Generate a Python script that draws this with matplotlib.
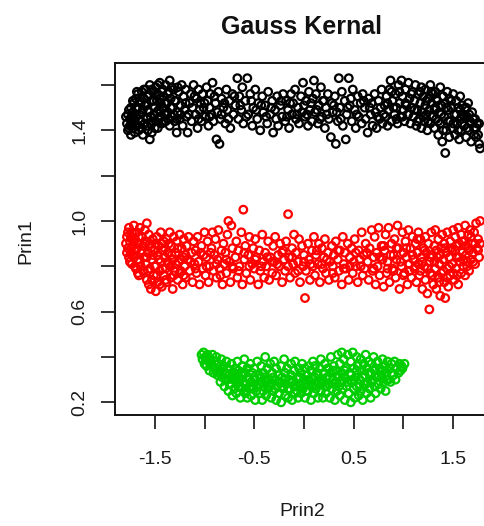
import numpy as np
import matplotlib
matplotlib.use("Agg")
import matplotlib.pyplot as plt

# Kernel PCA scores: (Prin2, Prin1) for each of the three groups
black_pts = [
    (-1.78,1.43),(-1.77,1.47),(-1.76,1.41),(-1.75,1.45),(-1.74,1.50),(-1.74,1.38),(-1.73,1.43),(-1.72,1.48),(-1.72,1.41),(-1.71,1.52),(-1.71,1.45),(-1.70,1.39),
    (-1.69,1.54),(-1.69,1.46),(-1.68,1.42),(-1.67,1.50),(-1.67,1.56),(-1.66,1.40),(-1.65,1.47),(-1.64,1.52),(-1.64,1.44),(-1.63,1.57),(-1.62,1.38),(-1.62,1.49),(-1.61,1.54),(-1.60,1.43),
    (-1.59,1.51),(-1.59,1.58),(-1.58,1.45),(-1.57,1.40),(-1.57,1.55),(-1.56,1.48),(-1.55,1.36),(-1.55,1.60),(-1.54,1.43),(-1.53,1.53),(-1.53,1.39),(-1.52,1.57),(-1.51,1.47),(-1.50,1.50),
    (-1.49,1.59),(-1.49,1.44),(-1.48,1.53),(-1.47,1.41),(-1.47,1.56),(-1.46,1.49),(-1.45,1.61),(-1.45,1.46),(-1.44,1.52),(-1.43,1.43),(-1.42,1.58),(-1.42,1.50),(-1.41,1.55),(-1.40,1.47),
    (-1.39,1.60),(-1.39,1.44),(-1.38,1.52),(-1.37,1.48),(-1.36,1.57),(-1.35,1.42),(-1.35,1.62),(-1.34,1.54),(-1.33,1.46),(-1.32,1.50),(-1.31,1.58),(-1.30,1.44),
    (-1.29,1.53),(-1.28,1.39),(-1.27,1.48),(-1.26,1.57),(-1.25,1.45),(-1.24,1.51),(-1.23,1.60),(-1.22,1.42),(-1.21,1.55),(-1.20,1.49),
    (-1.19,1.58),(-1.18,1.46),(-1.17,1.39),(-1.15,1.52),(-1.14,1.56),(-1.13,1.44),(-1.12,1.50),(-1.11,1.60),
    (-1.09,1.47),(-1.08,1.54),(-1.07,1.41),(-1.06,1.58),(-1.05,1.49),(-1.04,1.52),(-1.03,1.44),(-1.02,1.56),(-1.01,1.50),
    (-0.99,1.46),(-0.98,1.59),(-0.97,1.53),(-0.96,1.42),(-0.95,1.50),(-0.94,1.56),(-0.93,1.47),(-0.92,1.61),(-0.91,1.44),
    (-0.89,1.52),(-0.88,1.36),(-0.87,1.48),(-0.86,1.57),(-0.85,1.34),(-0.84,1.45),(-0.83,1.54),(-0.81,1.50),
    (-0.79,1.43),(-0.78,1.58),(-0.77,1.49),(-0.75,1.53),(-0.74,1.41),(-0.72,1.56),(-0.71,1.47),
    (-0.69,1.51),(-0.67,1.63),(-0.66,1.45),(-0.65,1.55),(-0.63,1.49),(-0.62,1.59),(-0.61,1.43),
    (-0.59,1.53),(-0.57,1.63),(-0.56,1.47),(-0.54,1.56),(-0.52,1.42),(-0.51,1.50),
    (-0.49,1.58),(-0.47,1.45),(-0.46,1.52),(-0.44,1.40),(-0.42,1.55),(-0.41,1.48),
    (-0.39,1.51),(-0.37,1.43),(-0.36,1.57),(-0.34,1.47),(-0.32,1.53),(-0.31,1.39),
    (-0.29,1.49),(-0.27,1.55),(-0.26,1.42),(-0.24,1.51),(-0.22,1.46),(-0.21,1.56),
    (-0.19,1.44),(-0.18,1.53),(-0.16,1.49),(-0.15,1.41),(-0.13,1.56),(-0.12,1.47),(-0.11,1.52),
    (-0.09,1.58),(-0.08,1.45),(-0.06,1.50),(-0.05,1.43),(-0.03,1.55),(-0.02,1.48),(-0.01,1.61),
    (0.01,1.46),(0.02,1.53),(0.04,1.42),(0.05,1.57),(0.06,1.49),(0.08,1.44),(0.09,1.54),(0.10,1.62),
    (0.11,1.48),(0.12,1.56),(0.14,1.43),(0.15,1.51),(0.17,1.59),(0.18,1.46),(0.19,1.53),
    (0.21,1.41),(0.22,1.50),(0.24,1.56),(0.25,1.45),(0.27,1.37),(0.28,1.52),(0.29,1.48),
    (0.31,1.55),(0.32,1.34),(0.34,1.44),(0.35,1.63),(0.36,1.50),(0.38,1.57),(0.39,1.42),
    (0.41,1.53),(0.42,1.36),(0.43,1.47),(0.45,1.63),(0.46,1.51),(0.48,1.44),(0.49,1.58),
    (0.51,1.49),(0.52,1.41),(0.54,1.55),(0.55,1.46),(0.57,1.52),(0.58,1.43),(0.59,1.56),
    (0.61,1.50),(0.62,1.45),(0.64,1.39),(0.65,1.54),(0.67,1.47),(0.68,1.52),(0.69,1.42),
    (0.71,1.56),(0.72,1.48),(0.73,1.41),(0.75,1.53),(0.76,1.45),(0.77,1.50),(0.78,1.58),(0.79,1.43),
    (0.81,1.51),(0.82,1.46),(0.83,1.55),(0.84,1.42),(0.85,1.49),(0.86,1.58),(0.87,1.62),(0.88,1.44),(0.89,1.53),
    (0.91,1.47),(0.92,1.56),(0.93,1.50),(0.94,1.43),(0.95,1.60),(0.96,1.52),(0.97,1.46),(0.98,1.62),(0.99,1.55),(1.00,1.49),
    (1.01,1.44),(1.02,1.58),(1.03,1.51),(1.04,1.47),(1.05,1.61),(1.06,1.54),(1.07,1.43),(1.08,1.50),(1.09,1.57),(1.10,1.46),
    (1.11,1.53),(1.12,1.60),(1.13,1.42),(1.14,1.49),(1.15,1.56),(1.16,1.45),(1.17,1.52),(1.18,1.59),(1.18,1.41),(1.19,1.48),(1.20,1.55),
    (1.21,1.44),(1.22,1.51),(1.22,1.58),(1.23,1.47),(1.24,1.40),(1.25,1.54),(1.26,1.49),(1.27,1.60),(1.27,1.43),(1.28,1.52),(1.29,1.46),(1.30,1.56),
    (1.31,1.41),(1.32,1.50),(1.32,1.57),(1.33,1.45),(1.34,1.53),(1.35,1.38),(1.36,1.48),(1.37,1.59),(1.37,1.43),(1.38,1.51),(1.39,1.35),(1.40,1.55),
    (1.41,1.46),(1.42,1.30),(1.42,1.52),(1.43,1.40),(1.44,1.57),(1.45,1.49),(1.46,1.37),(1.46,1.54),(1.47,1.44),(1.48,1.50),(1.49,1.41),(1.50,1.56),
    (1.51,1.47),(1.52,1.38),(1.53,1.53),(1.54,1.43),(1.55,1.50),(1.56,1.36),(1.57,1.55),(1.58,1.45),(1.58,1.40),(1.59,1.51),(1.60,1.47),
    (1.61,1.42),(1.62,1.50),(1.63,1.37),(1.64,1.46),(1.65,1.52),(1.66,1.40),(1.67,1.44),(1.68,1.35),(1.69,1.48),
    (1.71,1.41),(1.72,1.45),(1.73,1.37),(1.74,1.43),(1.76,1.34),(1.77,1.32),
    # core of the band
    (-1.79,1.46),(-1.77,1.40),(-1.76,1.49),(-1.75,1.42),(-1.73,1.46),(-1.72,1.53),(-1.70,1.44),(-1.69,1.50),(-1.68,1.57),(-1.66,1.45),
    (-1.65,1.53),(-1.63,1.41),(-1.63,1.48),(-1.61,1.58),(-1.60,1.51),(-1.58,1.42),(-1.57,1.49),(-1.56,1.56),(-1.54,1.46),(-1.53,1.58),
    (-1.52,1.44),(-1.51,1.53),(-1.50,1.41),(-1.48,1.48),(-1.47,1.60),(-1.46,1.45),(-1.45,1.54),(-1.44,1.48),(-1.43,1.57),(-1.41,1.44),
    (-1.40,1.52),(-1.38,1.47),(-1.37,1.56),(-1.36,1.45),(-1.34,1.50),(-1.33,1.59),(-1.31,1.47),(-1.30,1.53),(-1.28,1.45),(-1.27,1.59),
    (-1.24,1.47),(-1.19,1.52),(-1.16,1.47),(-1.10,1.55),(-1.06,1.45),(-1.00,1.52),(-0.95,1.46),(-0.90,1.55),(-0.83,1.47),(-0.80,1.52),
    (-0.76,1.45),(-0.70,1.55),(-0.64,1.51),(-0.58,1.46),(-0.53,1.53),(-0.48,1.49),(-0.43,1.51),(-0.38,1.46),(-0.33,1.50),(-0.28,1.45),
    (-0.23,1.53),(-0.17,1.46),(-0.14,1.52),(-0.07,1.47),(0.00,1.51),(0.03,1.47),(0.07,1.52),(0.13,1.49),(0.16,1.45),(0.20,1.53),
    (0.23,1.47),(0.30,1.51),(0.33,1.48),(0.37,1.45),(0.44,1.50),(0.47,1.54),(0.53,1.47),(0.60,1.53),(0.66,1.50),(0.74,1.46),
    (0.80,1.47),(0.84,1.52),(0.88,1.57),(0.90,1.50),(0.93,1.45),(0.96,1.57),(0.99,1.46),(1.02,1.52),(1.05,1.47),(1.08,1.56),
    (1.11,1.49),(1.14,1.44),(1.17,1.57),(1.20,1.46),(1.23,1.53),(1.25,1.44),(1.28,1.57),(1.31,1.49),(1.33,1.54),(1.35,1.44),
    (1.38,1.47),(1.40,1.40),(1.43,1.50),(1.45,1.44),(1.48,1.53),(1.50,1.43),(1.53,1.47),(1.55,1.40),(1.57,1.49),(1.59,1.43),
    (1.61,1.46),(1.63,1.50),(1.64,1.41),(1.66,1.47),(1.68,1.43),(1.70,1.45),(1.71,1.38),(1.73,1.41),(1.75,1.38),(1.76,1.43),
]

red_pts = [
    (-1.78,0.93),(-1.77,0.88),(-1.76,0.97),(-1.76,0.84),(-1.75,0.91),(-1.74,0.86),(-1.73,0.95),(-1.73,0.81),(-1.72,0.89),(-1.71,0.98),(-1.71,0.84),(-1.70,0.92),
    (-1.69,0.87),(-1.69,0.79),(-1.68,0.95),(-1.67,0.83),(-1.67,0.90),(-1.66,0.76),(-1.65,0.97),(-1.64,0.86),(-1.64,0.80),(-1.63,0.93),(-1.62,0.78),(-1.62,0.89),(-1.61,0.84),(-1.60,0.96),
    (-1.59,0.81),(-1.59,0.91),(-1.58,0.74),(-1.58,0.99),(-1.57,0.86),(-1.56,0.72),(-1.56,0.94),(-1.55,0.79),(-1.54,0.88),(-1.54,0.70),(-1.53,0.83),(-1.52,0.92),(-1.51,0.76),(-1.50,0.87),
    (-1.49,0.80),(-1.49,0.69),(-1.48,0.93),(-1.47,0.85),(-1.47,0.73),(-1.46,0.89),(-1.45,0.78),(-1.44,0.95),(-1.44,0.82),(-1.43,0.71),(-1.42,0.87),(-1.41,0.91),(-1.41,0.76),(-1.40,0.84),
    (-1.39,0.79),(-1.38,0.92),(-1.38,0.73),(-1.37,0.86),(-1.36,0.81),(-1.35,0.95),(-1.34,0.75),(-1.33,0.89),(-1.32,0.83),(-1.32,0.70),(-1.31,0.93),(-1.30,0.78),
    (-1.29,0.86),(-1.28,0.91),(-1.27,0.74),(-1.26,0.82),(-1.25,0.94),(-1.24,0.78),(-1.23,0.88),(-1.22,0.72),(-1.21,0.84),(-1.21,0.92),(-1.20,0.80),
    (-1.19,0.75),(-1.18,0.89),(-1.17,0.83),(-1.16,0.93),(-1.15,0.78),(-1.13,0.86),(-1.12,0.73),(-1.11,0.91),(-1.10,0.81),
    (-1.09,0.87),(-1.08,0.77),(-1.07,0.93),(-1.06,0.82),(-1.05,0.72),(-1.03,0.89),(-1.02,0.79),(-1.01,0.85),(-1.00,0.95),
    (-0.99,0.76),(-0.98,0.84),(-0.97,0.91),(-0.96,0.73),(-0.95,0.80),(-0.93,0.88),(-0.92,0.95),(-0.91,0.78),(-0.90,0.85),
    (-0.89,0.92),(-0.88,0.75),(-0.87,0.83),(-0.86,0.96),(-0.85,0.79),(-0.83,0.87),(-0.82,0.72),(-0.81,0.90),(-0.80,0.81),
    (-0.79,0.86),(-0.78,0.77),(-0.77,0.94),(-0.76,1.00),(-0.75,0.82),(-0.74,0.73),(-0.73,0.98),(-0.72,0.88),(-0.71,0.79),
    (-0.69,0.84),(-0.68,0.91),(-0.67,0.75),(-0.66,0.87),(-0.65,0.80),(-0.63,0.95),(-0.62,0.72),(-0.61,1.05),(-0.60,0.83),
    (-0.59,0.89),(-0.58,0.77),(-0.56,0.85),(-0.55,0.93),(-0.54,0.74),(-0.52,0.81),(-0.51,0.88),(-0.50,0.79),
    (-0.49,0.92),(-0.48,0.84),(-0.46,0.72),(-0.45,0.87),(-0.44,0.78),(-0.42,0.94),(-0.41,0.82),(-0.40,0.75),
    (-0.39,0.86),(-0.38,0.80),(-0.36,0.91),(-0.35,0.74),(-0.34,0.84),(-0.32,0.77),(-0.31,0.89),(-0.30,0.82),
    (-0.29,0.93),(-0.28,0.76),(-0.26,0.85),(-0.25,0.80),(-0.24,0.90),(-0.22,0.73),(-0.21,0.87),(-0.20,0.83),
    (-0.19,0.78),(-0.18,0.91),(-0.16,1.03),(-0.15,0.84),(-0.14,0.75),(-0.12,0.88),(-0.11,0.81),(-0.10,0.94),
    (-0.09,0.77),(-0.08,0.86),(-0.06,0.82),(-0.05,0.92),(-0.04,0.73),(-0.02,0.89),(-0.01,0.80),(0.00,0.85),
    (0.01,0.66),(0.02,0.78),(0.04,0.90),(0.05,0.83),(0.06,0.74),(0.08,0.87),(0.09,0.80),(0.10,0.93),
    (0.11,0.76),(0.12,0.85),(0.14,0.81),(0.15,0.90),(0.16,0.73),(0.18,0.88),(0.19,0.79),(0.20,0.84),
    (0.21,0.92),(0.22,0.77),(0.24,0.86),(0.25,0.74),(0.26,0.82),(0.28,0.89),(0.29,0.80),(0.30,0.85),
    (0.31,0.75),(0.32,0.91),(0.34,0.83),(0.35,0.78),(0.36,0.87),(0.38,0.72),(0.39,0.93),(0.40,0.81),
    (0.41,0.86),(0.42,0.79),(0.44,0.90),(0.45,0.74),(0.46,0.84),(0.48,0.88),(0.49,0.77),(0.50,0.82),
    (0.51,0.92),(0.52,0.80),(0.54,0.73),(0.55,0.87),(0.56,0.83),(0.58,0.95),(0.59,0.76),(0.60,0.85),
    (0.61,0.79),(0.62,0.90),(0.64,0.82),(0.65,0.74),(0.66,0.88),(0.68,0.96),(0.69,0.78),(0.70,0.84),
    (0.71,0.93),(0.72,0.72),(0.73,0.86),(0.74,0.80),(0.75,0.97),(0.76,0.76),(0.78,0.89),(0.79,0.83),(0.80,0.71),
    (0.81,0.87),(0.82,0.94),(0.83,0.77),(0.84,0.82),(0.85,0.97),(0.86,0.73),(0.88,0.90),(0.89,0.79),(0.90,0.85),
    (0.91,0.92),(0.92,0.75),(0.93,0.83),(0.94,0.98),(0.95,0.88),(0.96,0.70),(0.98,0.80),(0.99,0.95),(1.00,0.86),
    (1.01,0.77),(1.02,0.91),(1.03,0.84),(1.04,0.72),(1.05,0.96),(1.06,0.81),(1.07,0.88),(1.08,0.75),(1.09,0.93),(1.10,0.83),
    (1.11,0.79),(1.12,0.90),(1.13,0.73),(1.14,0.86),(1.15,0.95),(1.15,0.81),(1.16,0.76),(1.17,0.92),(1.18,0.84),(1.19,0.70),(1.20,0.88),
    (1.21,0.80),(1.22,0.93),(1.22,0.74),(1.23,0.86),(1.24,0.68),(1.25,0.90),(1.26,0.61),(1.26,0.82),(1.27,0.77),(1.28,0.95),(1.29,0.85),(1.30,0.72),
    (1.31,0.89),(1.32,0.79),(1.32,0.96),(1.33,0.70),(1.34,0.84),(1.35,0.75),(1.35,0.92),(1.36,0.81),(1.37,0.67),(1.38,0.88),(1.38,0.77),(1.39,0.94),(1.40,0.83),
    (1.41,0.73),(1.41,0.90),(1.42,0.66),(1.43,0.86),(1.44,0.79),(1.44,0.95),(1.45,0.71),(1.46,0.84),(1.47,0.91),(1.47,0.76),(1.48,0.88),(1.49,0.81),(1.50,0.96),
    (1.51,0.74),(1.52,0.87),(1.52,0.93),(1.53,0.79),(1.54,0.84),(1.55,0.97),(1.55,0.72),(1.56,0.90),(1.57,0.82),(1.58,0.77),(1.58,0.94),(1.59,0.86),(1.60,0.80),
    (1.61,0.91),(1.62,0.76),(1.62,0.98),(1.63,0.85),(1.64,0.80),(1.65,0.94),(1.65,0.88),(1.66,0.78),(1.67,0.96),(1.68,0.83),(1.69,0.90),(1.70,0.86),
    (1.71,0.95),(1.72,0.81),(1.73,0.99),(1.74,0.88),(1.75,0.92),(1.76,0.84),(1.77,1.00),(1.77,0.90),
    # core of the band
    (-1.79,0.90),(-1.78,0.86),(-1.77,0.95),(-1.75,0.82),(-1.74,0.93),(-1.72,0.85),(-1.71,0.91),(-1.70,0.80),(-1.68,0.88),(-1.67,0.77),
    (-1.66,0.93),(-1.65,0.82),(-1.63,0.87),(-1.61,0.78),(-1.60,0.90),(-1.58,0.84),(-1.57,0.78),(-1.55,0.90),(-1.53,0.74),(-1.52,0.85),
    (-1.50,0.80),(-1.49,0.90),(-1.48,0.76),(-1.46,0.83),(-1.45,0.72),(-1.43,0.90),(-1.42,0.79),(-1.40,0.88),(-1.39,0.74),(-1.37,0.82),
    (-1.36,0.90),(-1.34,0.80),(-1.33,0.85),(-1.31,0.76),(-1.29,0.81),(-1.27,0.88),(-1.25,0.77),(-1.23,0.83),(-1.21,0.76),(-1.19,0.85),
    (-1.14,0.82),(-1.09,0.79),(-1.04,0.86),(-0.98,0.80),(-0.94,0.86),(-0.88,0.81),(-0.84,0.76),(-0.78,0.83),(-0.72,0.80),(-0.66,0.78),
    (-0.60,0.86),(-0.55,0.80),(-0.49,0.83),(-0.43,0.80),(-0.37,0.84),(-0.32,0.82),(-0.27,0.81),(-0.22,0.86),(-0.16,0.80),(-0.12,0.84),
    (-0.06,0.78),(0.00,0.82),(0.07,0.81),(0.13,0.87),(0.18,0.81),(0.23,0.83),(0.29,0.77),(0.34,0.87),(0.40,0.79),(0.46,0.80),
    (0.52,0.86),(0.57,0.80),(0.63,0.86),(0.70,0.79),(0.76,0.84),
    (0.80,0.89),(0.84,0.79),(0.87,0.85),(0.90,0.78),(0.93,0.88),(0.97,0.82),(1.00,0.76),(1.03,0.88),(1.06,0.78),(1.09,0.85),
    (1.12,0.80),(1.14,0.92),(1.17,0.78),(1.19,0.82),(1.21,0.87),(1.24,0.79),(1.27,0.84),(1.29,0.76),(1.31,0.82),(1.33,0.87),
    (1.36,0.73),(1.37,0.85),(1.40,0.78),(1.42,0.88),(1.44,0.75),(1.46,0.80),(1.49,0.87),(1.50,0.77),(1.53,0.89),(1.54,0.76),
    (1.56,0.84),(1.59,0.91),(1.60,0.83),(1.63,0.89),(1.64,0.82),(1.66,0.87),(1.68,0.93),(1.70,0.82),(1.72,0.90),(1.75,0.87),
]

green_pts = [
    (-1.03,0.41),(-1.02,0.39),(-1.01,0.42),(-1.00,0.37),(-0.99,0.40),(-0.98,0.36),(-0.97,0.41),(-0.96,0.38),
    (-0.95,0.34),(-0.94,0.39),(-0.93,0.36),(-0.92,0.41),(-0.91,0.33),(-0.90,0.38),(-0.89,0.35),(-0.88,0.40),(-0.87,0.32),(-0.86,0.37),
    (-0.85,0.34),(-0.84,0.29),(-0.83,0.39),(-0.82,0.31),(-0.81,0.36),(-0.80,0.27),(-0.79,0.33),(-0.78,0.38),(-0.77,0.30),(-0.77,0.35),(-0.76,0.25),(-0.75,0.32),
    (-0.74,0.28),(-0.73,0.37),(-0.72,0.23),(-0.72,0.33),(-0.71,0.30),(-0.70,0.26),(-0.69,0.35),(-0.68,0.24),(-0.68,0.31),(-0.67,0.38),(-0.66,0.27),(-0.66,0.34),(-0.65,0.29),
    (-0.64,0.22),(-0.63,0.32),(-0.62,0.36),(-0.62,0.26),(-0.61,0.29),(-0.60,0.39),(-0.59,0.24),(-0.59,0.33),(-0.58,0.28),(-0.57,0.35),(-0.57,0.22),(-0.56,0.31),(-0.55,0.26),
    (-0.54,0.37),(-0.53,0.29),(-0.53,0.23),(-0.52,0.33),(-0.51,0.27),(-0.50,0.35),(-0.49,0.21),(-0.49,0.30),(-0.48,0.25),(-0.47,0.38),(-0.46,0.28),(-0.45,0.32),
    (-0.44,0.24),(-0.43,0.36),(-0.43,0.29),(-0.42,0.21),(-0.41,0.33),(-0.40,0.27),(-0.39,0.40),(-0.39,0.31),(-0.38,0.23),(-0.37,0.35),(-0.36,0.26),(-0.35,0.30),
    (-0.34,0.37),(-0.33,0.22),(-0.33,0.28),(-0.32,0.33),(-0.31,0.25),(-0.30,0.38),(-0.29,0.30),(-0.28,0.21),(-0.28,0.35),(-0.27,0.27),(-0.26,0.32),(-0.25,0.24),
    (-0.24,0.29),(-0.23,0.36),(-0.23,0.20),(-0.22,0.31),(-0.21,0.26),(-0.20,0.39),(-0.19,0.23),(-0.19,0.33),(-0.18,0.28),(-0.17,0.35),(-0.16,0.22),(-0.15,0.30),
    (-0.14,0.26),(-0.13,0.37),(-0.13,0.32),(-0.12,0.21),(-0.11,0.29),(-0.10,0.34),(-0.09,0.24),(-0.09,0.38),(-0.08,0.27),(-0.07,0.31),(-0.06,0.22),(-0.05,0.35),
    (-0.04,0.28),(-0.03,0.24),(-0.03,0.33),(-0.02,0.37),(-0.01,0.26),(0.00,0.30),(0.01,0.22),(0.01,0.35),(0.02,0.28),(0.03,0.32),(0.04,0.25),(0.05,0.36),
    (0.06,0.29),(0.07,0.21),(0.07,0.34),(0.08,0.27),(0.09,0.38),(0.10,0.24),(0.11,0.31),(0.11,0.36),(0.12,0.26),(0.13,0.33),(0.14,0.22),(0.15,0.29),
    (0.16,0.35),(0.17,0.25),(0.17,0.39),(0.18,0.30),(0.19,0.22),(0.20,0.33),(0.21,0.27),(0.21,0.37),(0.22,0.24),(0.23,0.31),(0.24,0.35),(0.25,0.28),
    (0.26,0.22),(0.27,0.33),(0.27,0.40),(0.28,0.26),(0.29,0.30),(0.30,0.36),(0.31,0.21),(0.31,0.28),(0.32,0.34),(0.33,0.25),(0.34,0.41),(0.35,0.31),
    (0.36,0.37),(0.36,0.23),(0.37,0.29),(0.38,0.42),(0.38,0.33),(0.39,0.26),(0.40,0.39),(0.41,0.21),(0.41,0.31),(0.42,0.35),(0.43,0.27),(0.44,0.41),(0.45,0.24),
    (0.46,0.33),(0.47,0.38),(0.47,0.20),(0.48,0.29),(0.49,0.42),(0.50,0.26),(0.50,0.35),(0.51,0.22),(0.52,0.31),(0.53,0.40),(0.53,0.27),(0.54,0.36),(0.55,0.23),
    (0.56,0.30),(0.57,0.39),(0.57,0.25),(0.58,0.34),(0.59,0.21),(0.60,0.37),(0.60,0.28),(0.61,0.32),(0.62,0.41),(0.63,0.24),(0.63,0.35),(0.64,0.29),(0.65,0.38),
    (0.66,0.26),(0.67,0.33),(0.67,0.22),(0.68,0.37),(0.69,0.30),(0.70,0.40),(0.71,0.27),(0.71,0.34),(0.72,0.24),(0.73,0.31),(0.74,0.38),(0.75,0.28),
    (0.76,0.35),(0.77,0.26),(0.78,0.32),(0.79,0.39),(0.80,0.29),(0.81,0.36),(0.82,0.25),(0.83,0.33),(0.84,0.38),(0.85,0.30),
    (0.86,0.35),(0.87,0.29),(0.88,0.37),(0.90,0.32),(0.91,0.38),(0.92,0.30),(0.93,0.35),(0.95,0.33),
    (0.96,0.37),(0.97,0.34),(0.98,0.36),(0.99,0.35),(1.01,0.37),
    # core of the band
    (-0.98,0.39),(-0.94,0.37),(-0.90,0.35),(-0.86,0.33),(-0.82,0.35),(-0.79,0.30),(-0.75,0.28),(-0.73,0.31),(-0.70,0.33),(-0.67,0.29),
    (-0.64,0.27),(-0.61,0.33),(-0.58,0.25),(-0.55,0.30),(-0.52,0.26),(-0.50,0.31),(-0.47,0.27),(-0.44,0.31),(-0.41,0.25),(-0.38,0.29),
    (-0.35,0.27),(-0.31,0.31),(-0.29,0.26),(-0.26,0.29),(-0.22,0.27),(-0.19,0.30),(-0.16,0.26),(-0.13,0.29),(-0.10,0.27),(-0.07,0.25),
    (-0.04,0.31),(-0.01,0.29),(0.02,0.25),(0.05,0.30),(0.08,0.31),(0.11,0.28),(0.14,0.32),(0.17,0.28),(0.20,0.29),(0.23,0.27),
    (0.26,0.31),(0.29,0.34),(0.32,0.29),(0.35,0.27),(0.38,0.30),(0.41,0.34),(0.44,0.29),(0.47,0.32),(0.50,0.30),(0.53,0.34),
    (0.56,0.27),(0.59,0.31),(0.62,0.28),(0.65,0.33),(0.68,0.29),(0.72,0.35),(0.75,0.32),(0.79,0.34),(0.83,0.30),(0.88,0.33),
]

series = [(black_pts, "#000000"), (red_pts, "#ff0000"), (green_pts, "#00cd00")]

x_ticks = [-1.5, -1.0, -0.5, 0.0, 0.5, 1.0, 1.5]
x_tick_labels = ["-1.5", "", "-0.5", "", "0.5", "", "1.5"]
y_ticks = [0.2, 0.4, 0.6, 0.8, 1.0, 1.2, 1.4, 1.6]
y_tick_labels = ["0.2", "", "0.6", "", "1.0", "", "1.4", ""]

plt.rcParams["font.family"] = ["Liberation Sans", "DejaVu Sans"]

W, H = 485, 526
fig = plt.figure(figsize=(W / 100, H / 100), dpi=100)
ax = fig.add_axes([115 / W, 1 - 415 / H, 378 / W, 352 / H])

for pts, col in series:
    arr = np.array(pts)
    ax.scatter(arr[:, 0], arr[:, 1], s=30, facecolors="none",
               edgecolors=col, linewidths=1.6)

ax.set_xlim(-1.9, 1.9)
ax.set_ylim(0.144, 1.697)
ax.set_xticks(x_ticks)
ax.set_xticklabels(x_tick_labels)
ax.set_yticks(y_ticks)
ax.set_yticklabels(y_tick_labels, rotation=90, va="center")

for sp in ax.spines.values():
    sp.set_linewidth(1.4)
    sp.set_color("#111111")

ax.tick_params(axis="x", length=10, width=1.4, color="#333333",
               labelsize=14, pad=16, labelcolor="#1a1a1a")
ax.tick_params(axis="y", length=10, width=1.4, color="#333333",
               labelsize=14, pad=9, labelcolor="#1a1a1a")

fig.text(302 / W, 1 - 27 / H, "Gauss Kernal", ha="center", va="center",
         fontsize=18, fontweight="bold", color="#111111")
fig.text(302 / W, 1 - 511 / H, "Prin2", ha="center", va="center",
         fontsize=14, color="#1a1a1a")
fig.text(26 / W, 1 - 241 / H, "Prin1", ha="center", va="center",
         fontsize=14, color="#1a1a1a", rotation=90)

fig.savefig("out.png", dpi=100)
